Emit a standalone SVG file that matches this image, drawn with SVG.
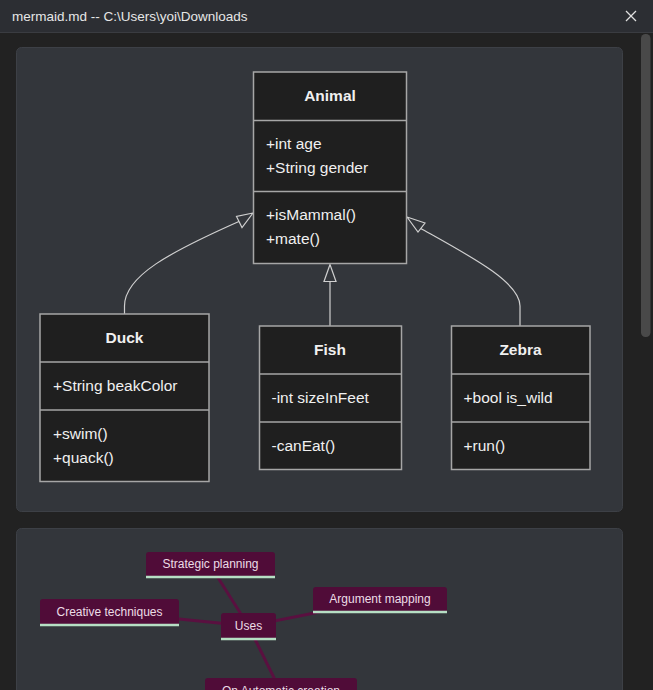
<svg xmlns="http://www.w3.org/2000/svg" width="653" height="690" viewBox="0 0 653 690">
  <style>
    .title { font-family: "Liberation Sans", "Noto Sans", sans-serif; font-size: 13.5px; fill: #e6e6e6; }
    .panel { fill: #33363b; stroke: #3d4046; stroke-width: 1; }
    .cls { fill: #1f1f1f; stroke: #a6a6a6; stroke-width: 1.5; }
    .div { stroke: #a6a6a6; stroke-width: 1.5; }
    .cname { font-family: "Liberation Sans", "Noto Sans", sans-serif; font-size: 15.5px; font-weight: bold; fill: #f0f0f0; text-anchor: middle; }
    .member { font-family: "Liberation Sans", "Noto Sans", sans-serif; font-size: 15.5px; fill: #f0f0f0; }
    .rel { fill: none; stroke: #d0d0d0; stroke-width: 1.2; }
    .tri { fill: #33363b; stroke: #d0d0d0; stroke-width: 1.2; }
    .mm-edge { stroke: #5a1040; stroke-width: 3; }
    .mm-box { fill: #500c38; }
    .mm-line { stroke: #b6dfc4; stroke-width: 2.5; }
    .mm-text { font-family: "Liberation Sans", "Noto Sans", sans-serif; font-size: 12px; fill: #ecdde6; text-anchor: middle; }
  </style>

  <!-- window frame -->
  <rect x="0" y="0" width="653" height="690" fill="#222222"/>
  <rect x="0" y="0" width="653" height="32" fill="#2c2e33"/>
  <line x1="0" y1="32.5" x2="653" y2="32.5" stroke="#3a3c41" stroke-width="1"/>
  <text class="title" x="12" y="21">mermaid.md -- C:\Users\yoi\Downloads</text>
  <g stroke="#e0e0e0" stroke-width="1.3">
    <line x1="626" y1="11" x2="636" y2="21"/>
    <line x1="636" y1="11" x2="626" y2="21"/>
  </g>
  <!-- scrollbar thumb -->
  <rect x="641" y="34" width="9.5" height="303" rx="4.5" fill="#494949"/>

  <!-- panels -->
  <rect class="panel" x="16.5" y="47.5" width="606" height="464" rx="5"/>
  <rect class="panel" x="16.5" y="528.5" width="606" height="175" rx="5"/>

  <!-- class diagram connectors -->
  <g id="class-relations">
    <path class="rel" d="M124.5,314 L124.5,306 C124.5,276 170,252 240,221"/>
    <polygon class="tri" points="253,213 236.5,216.5 242,227.5"/>
    <path class="rel" d="M330,326 L330,281"/>
    <polygon class="tri" points="330,264.5 324,281.5 336,281.5"/>
    <path class="rel" d="M420,228 C470,256 520,282 520,306 L520,326"/>
    <polygon class="tri" points="407,217 425,223 418,232"/>
  </g>

  <!-- Animal -->
  <g id="Animal">
    <rect class="cls" x="253.5" y="72" width="153" height="191.5"/>
    <line class="div" x1="253.5" y1="120.5" x2="406.5" y2="120.5"/>
    <line class="div" x1="253.5" y1="191.5" x2="406.5" y2="191.5"/>
    <text class="cname" x="330" y="101">Animal</text>
    <text class="member" x="266" y="149">+int age</text>
    <text class="member" x="266" y="173">+String gender</text>
    <text class="member" x="266" y="220">+isMammal()</text>
    <text class="member" x="266" y="244">+mate()</text>
  </g>

  <!-- Duck -->
  <g id="Duck">
    <rect class="cls" x="40" y="314" width="169" height="167.5"/>
    <line class="div" x1="40" y1="362" x2="209" y2="362"/>
    <line class="div" x1="40" y1="410" x2="209" y2="410"/>
    <text class="cname" x="124.5" y="343">Duck</text>
    <text class="member" x="53" y="391">+String beakColor</text>
    <text class="member" x="53" y="439">+swim()</text>
    <text class="member" x="53" y="463">+quack()</text>
  </g>

  <!-- Fish -->
  <g id="Fish">
    <rect class="cls" x="259.5" y="326" width="142" height="143.5"/>
    <line class="div" x1="259.5" y1="374" x2="401.5" y2="374"/>
    <line class="div" x1="259.5" y1="422" x2="401.5" y2="422"/>
    <text class="cname" x="330" y="355">Fish</text>
    <text class="member" x="271.5" y="403">-int sizeInFeet</text>
    <text class="member" x="271.5" y="451">-canEat()</text>
  </g>

  <!-- Zebra -->
  <g id="Zebra">
    <rect class="cls" x="451.5" y="326" width="138.5" height="143.5"/>
    <line class="div" x1="451.5" y1="374" x2="590" y2="374"/>
    <line class="div" x1="451.5" y1="422" x2="590" y2="422"/>
    <text class="cname" x="520.5" y="355">Zebra</text>
    <text class="member" x="463.5" y="403">+bool is_wild</text>
    <text class="member" x="463.5" y="451">+run()</text>
  </g>

  <!-- mindmap edges -->
  <g id="mindmap-edges">
    <line class="mm-edge" x1="210" y1="565" x2="248.5" y2="626"/>
    <line class="mm-edge" x1="109.5" y1="612" x2="248.5" y2="626"/>
    <line class="mm-edge" x1="380" y1="600" x2="248.5" y2="626"/>
    <line class="mm-edge" x1="281" y1="692" x2="248.5" y2="626"/>
  </g>

  <!-- mindmap nodes -->
  <g id="strategic-planning">
    <path class="mm-box" d="M146,578 V555 Q146,552 149,552 H272 Q275,552 275,555 V578 Z"/>
    <line class="mm-line" x1="146" y1="577" x2="275" y2="577"/>
    <text class="mm-text" x="210.5" y="568">Strategic planning</text>
  </g>
  <g id="creative-techniques">
    <path class="mm-box" d="M40,626 V602 Q40,599 43,599 H176 Q179,599 179,602 V626 Z"/>
    <line class="mm-line" x1="40" y1="625" x2="179" y2="625"/>
    <text class="mm-text" x="109.5" y="616">Creative techniques</text>
  </g>
  <g id="uses">
    <path class="mm-box" d="M221,640 V616 Q221,613 224,613 H273 Q276,613 276,616 V640 Z"/>
    <line class="mm-line" x1="221" y1="639" x2="276" y2="639"/>
    <text class="mm-text" x="248.5" y="630">Uses</text>
  </g>
  <g id="argument-mapping">
    <path class="mm-box" d="M313,613 V590 Q313,587 316,587 H444 Q447,587 447,590 V613 Z"/>
    <line class="mm-line" x1="313" y1="612" x2="447" y2="612"/>
    <text class="mm-text" x="380" y="603">Argument mapping</text>
  </g>
  <g id="automatic-creation">
    <path class="mm-box" d="M205,704 V681 Q205,678 208,678 H354 Q357,678 357,681 V704 Z"/>
    <text class="mm-text" x="281" y="695">On Automatic creation</text>
  </g>
</svg>
